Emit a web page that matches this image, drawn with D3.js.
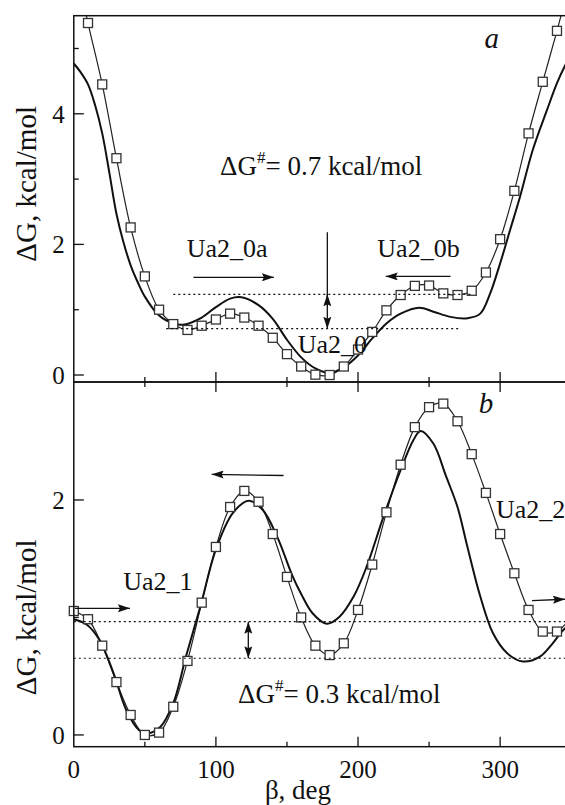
<!DOCTYPE html>
<html><head><meta charset="utf-8">
<script src="https://cdn.jsdelivr.net/npm/d3@7"></script>
<style>
body{margin:0;background:#fff}
</style>
</head><body>
<svg id="c" width="565" height="805"></svg>
<script>
// ---------- data ----------
const aSqDeg = [0,10,20,30,40,50,60,70,80,90,100,110,120,130,140,150,160,170,180,190,200,210,220,230,240,250,260,270,280,290,300,310,320,330,340,350];
const aSqVal = [6.4,5.39,4.45,3.32,2.26,1.51,1.00,0.78,0.69,0.755,0.85,0.94,0.88,0.755,0.57,0.32,0.13,0.005,0.0,0.13,0.39,0.66,0.99,1.225,1.365,1.37,1.25,1.225,1.29,1.57,2.08,2.82,3.70,4.49,5.27,6.1];
const aFitDeg = [0,5,10,15,20,25,30,35,40,45,50,60,70,78,90,100,110,118,130,140,150,160,170,180,190,200,210,220,230,243,253,265,277,286,293,300,307,314,323,333,340,346,360];
const aFitVal = [4.77,4.63,4.45,4.13,3.7,3.1,2.47,2.03,1.68,1.42,1.2,0.91,0.79,0.775,0.88,1.04,1.17,1.19,1.07,0.86,0.54,0.27,0.1,0.03,0.12,0.30,0.56,0.79,0.94,1.03,0.97,0.89,0.87,0.94,1.25,1.71,2.22,2.73,3.45,4.06,4.47,4.75,5.3];
const bSqDeg = [0,10,20,30,40,50,60,70,80,90,100,110,120,130,140,150,160,170,180,190,200,210,220,230,240,250,260,270,280,290,300,310,320,330,340,350,360];
const bSqVal = [1.055,0.985,0.76,0.45,0.17,0.0,0.02,0.24,0.63,1.126,1.60,1.94,2.077,1.985,1.71,1.345,1.00,0.76,0.68,0.78,1.064,1.45,1.895,2.30,2.62,2.79,2.82,2.67,2.39,2.06,1.71,1.376,1.064,0.88,0.88,0.99,1.055];
const bFitDeg = [0,9,18,28,37,46,52,61,70,79,89,100,112,123,133,143,154,160,168,178,187,197,206,218,230,239,244,253,262,270,277,286,295,305,316,328,337,346,360];
const bFitVal = [0.985,0.94,0.81,0.525,0.21,0.04,0.015,0.07,0.27,0.67,1.09,1.58,1.89,1.994,1.915,1.69,1.35,1.2,1.036,0.947,1.007,1.18,1.43,1.86,2.255,2.51,2.587,2.48,2.20,1.94,1.60,1.18,0.865,0.695,0.625,0.667,0.78,0.91,0.985];

const xTicksMajor = [0,100,200,300];
const xTicksMinor = [50,150,250,350];
const aYMajor = [0,2,4], aYMinor = [1,3,5];
const bYMajor = [0,2], bYMinor = [1];

// ---------- layout ----------
const FONT = "Liberation Serif";
const svg = d3.select("#c");
const X0 = 73.8, X1 = 585.4;
const x = d3.scaleLinear().domain([0,360]).range([X0, X1]);
const yA = d3.scaleLinear().domain([-0.107, 5.502]).range([382, 15.7]);
const yB = d3.scaleLinear().domain([-0.1, 3.004]).range([746.7, 382]);

function txt(sel) {
  return sel.append("text").attr("font-family", FONT)
    .style("font-family", FONT, "important").attr("fill", "#111");
}

const defs = svg.append("defs");
defs.append("marker").attr("id","ah").attr("markerUnits","userSpaceOnUse")
  .attr("viewBox","0 0 12 8").attr("refX",12).attr("refY",4)
  .attr("markerWidth",12).attr("markerHeight",8).attr("orient","auto-start-reverse")
  .append("path").attr("d","M0,0 L12,4 L0,8 L2,4 z").attr("fill","#111");

function panel(id, y, sqDeg, sqVal, fitDeg, fitVal, yMaj, yMin) {
  const [yb, yt] = y.range();
  defs.append("clipPath").attr("id","clip"+id).append("rect")
    .attr("x",X0).attr("y",yt).attr("width",X1-X0).attr("height",yb-yt);
  defs.append("clipPath").attr("id","clipm"+id).append("rect")
    .attr("x",X0-8).attr("y",yt).attr("width",X1-X0+8).attr("height",yb-yt);
  const g = svg.append("g");
  const gc = g.append("g").attr("clip-path","url(#clip"+id+")");
  const gm = g.append("g").attr("clip-path","url(#clipm"+id+")");
  const sq = sqDeg.map((d,i)=>[d, sqVal[i]]);
  const fit = fitDeg.map((d,i)=>[d, fitVal[i]]);
  gc.append("path").datum(sq)
    .attr("d", d3.line().x(d=>x(d[0])).y(d=>y(d[1])).curve(d3.curveCatmullRom.alpha(0.5)))
    .attr("fill","none").attr("stroke","#222").attr("stroke-width",1.2);
  gc.append("path").datum(fit)
    .attr("d", d3.line().x(d=>x(d[0])).y(d=>y(d[1])).curve(d3.curveCatmullRom.alpha(0.5)))
    .attr("fill","none").attr("stroke","#111").attr("stroke-width",2);
  gm.selectAll("rect.sq").data(sq).join("rect").attr("class","sq")
    .attr("x",d=>x(d[0])-4.5).attr("y",d=>y(d[1])-4.5).attr("width",9).attr("height",9)
    .attr("fill","#fff").attr("stroke","#333").attr("stroke-width",1.3);
  g.append("rect").attr("x",X0).attr("y",yt).attr("width",X1-X0).attr("height",yb-yt)
    .attr("fill","none").attr("stroke","#111").attr("stroke-width",1.5);
  g.selectAll("line.ym").data(yMaj).join("line")
    .attr("x1",X0).attr("x2",X0+10).attr("y1",d=>y(d)).attr("y2",d=>y(d))
    .attr("stroke","#111").attr("stroke-width",1.3);
  g.selectAll("line.yn").data(yMin).join("line")
    .attr("x1",X0).attr("x2",X0+5).attr("y1",d=>y(d)).attr("y2",d=>y(d))
    .attr("stroke","#111").attr("stroke-width",1.3);
  yMaj.forEach(v => {
    txt(g).attr("x",X0-9).attr("y",y(v)+9).attr("text-anchor","end").attr("font-size",25).text(v);
  });
  const xt = xTicksMajor.concat(xTicksMinor).filter(d=>d>0);
  g.selectAll("line.xb").data(xt).join("line")
    .attr("x1",d=>x(d)).attr("x2",d=>x(d)).attr("y1",yb).attr("y2",d=>yb-(xTicksMajor.includes(d)?10:5))
    .attr("stroke","#111").attr("stroke-width",1.3);
  if (id==="b") {
    g.selectAll("line.xt").data(xt).join("line")
      .attr("x1",d=>x(d)).attr("x2",d=>x(d)).attr("y1",yt).attr("y2",d=>yt+(xTicksMajor.includes(d)?10:5))
      .attr("stroke","#111").attr("stroke-width",1.3);
  }
  txt(g).attr("transform",`translate(36,${(yt+yb)/2 - (id==="a"?15:-53)}) rotate(-90)`)
    .attr("text-anchor","middle").attr("font-size",29).text("ΔG, kcal/mol");
  return g;
}

const gA = panel("a", yA, aSqDeg, aSqVal, aFitDeg, aFitVal, aYMajor, aYMinor);
const gB = panel("b", yB, bSqDeg, bSqVal, bFitDeg, bFitVal, bYMajor, bYMinor);

xTicksMajor.forEach(d => {
  txt(svg).attr("x",x(d)).attr("y",778).attr("text-anchor","middle").attr("font-size",25).text(d);
});
txt(svg).attr("x",298).attr("y",799).attr("text-anchor","middle").attr("font-size",27).text("β, deg");

// ---------- annotations ----------
function dotted(g, y, d0, d1, v) {
  g.append("line").attr("x1",x(d0)).attr("x2",x(d1)).attr("y1",y(v)).attr("y2",y(v))
    .attr("stroke","#111").attr("stroke-width",1.2).attr("stroke-dasharray","2,3");
}
function arrow(g, y, d0, v0, d1, v1, both) {
  const l = g.append("line").attr("x1",x(d0)).attr("y1",y(v0)).attr("x2",x(d1)).attr("y2",y(v1))
    .attr("stroke","#111").attr("stroke-width",1.3).attr("marker-end","url(#ah)");
  if (both) l.attr("marker-start","url(#ah)");
}
function label(g, y, d, v, s, size, italic) {
  const t = txt(g).attr("x",x(d)).attr("y",y(v)).attr("font-size",size).text(s);
  if (italic) t.attr("font-style","italic");
  return t;
}
function dgLabel(g, y, d, v, val) {
  const t = txt(g).attr("x",x(d)).attr("y",y(v)).attr("font-size",27);
  t.append("tspan").text("ΔG");
  t.append("tspan").attr("font-size",17).attr("dy",-12).text("#");
  t.append("tspan").attr("dy",12).text("= " + val + " kcal/mol");
}

label(gA, yA, 289, 5.01, "a", 29, true);
dgLabel(gA, yA, 102.9, 3.06, "0.7");
label(gA, yA, 79.4, 1.81, "Ua2_0a", 26);
label(gA, yA, 213.6, 1.81, "Ua2_0b", 26);
label(gA, yA, 157.5, 0.34, "Ua2_0", 26);
arrow(gA, yA, 84.2, 1.496, 140.8, 1.496);
arrow(gA, yA, 265.1, 1.51, 219.5, 1.51);
dotted(gA, yA, 70, 280, 1.236);
dotted(gA, yA, 65, 272, 0.709);
arrow(gA, yA, 178.4, 2.185, 178.4, 0.709);
arrow(gA, yA, 178.4, 1.06, 178.4, 1.236);

label(gB, yB, 285, 2.738, "b", 29, true);
dgLabel(gB, yB, 115.6, 0.27, "0.3");
label(gB, yB, 34.8, 1.234, "Ua2_1", 26);
label(gB, yB, 297.1, 1.844, "Ua2_2", 26);
arrow(gB, yB, 147.6, 2.208, 97, 2.218);
arrow(gB, yB, 0.8, 1.078, 39.5, 1.078);
arrow(gB, yB, 322.4, 1.143, 345.6, 1.155);
dotted(gB, yB, 0, 360, 0.964);
dotted(gB, yB, 0, 360, 0.653);
arrow(gB, yB, 122.8, 0.964, 122.8, 0.653, true);
</script>
</body></html>
